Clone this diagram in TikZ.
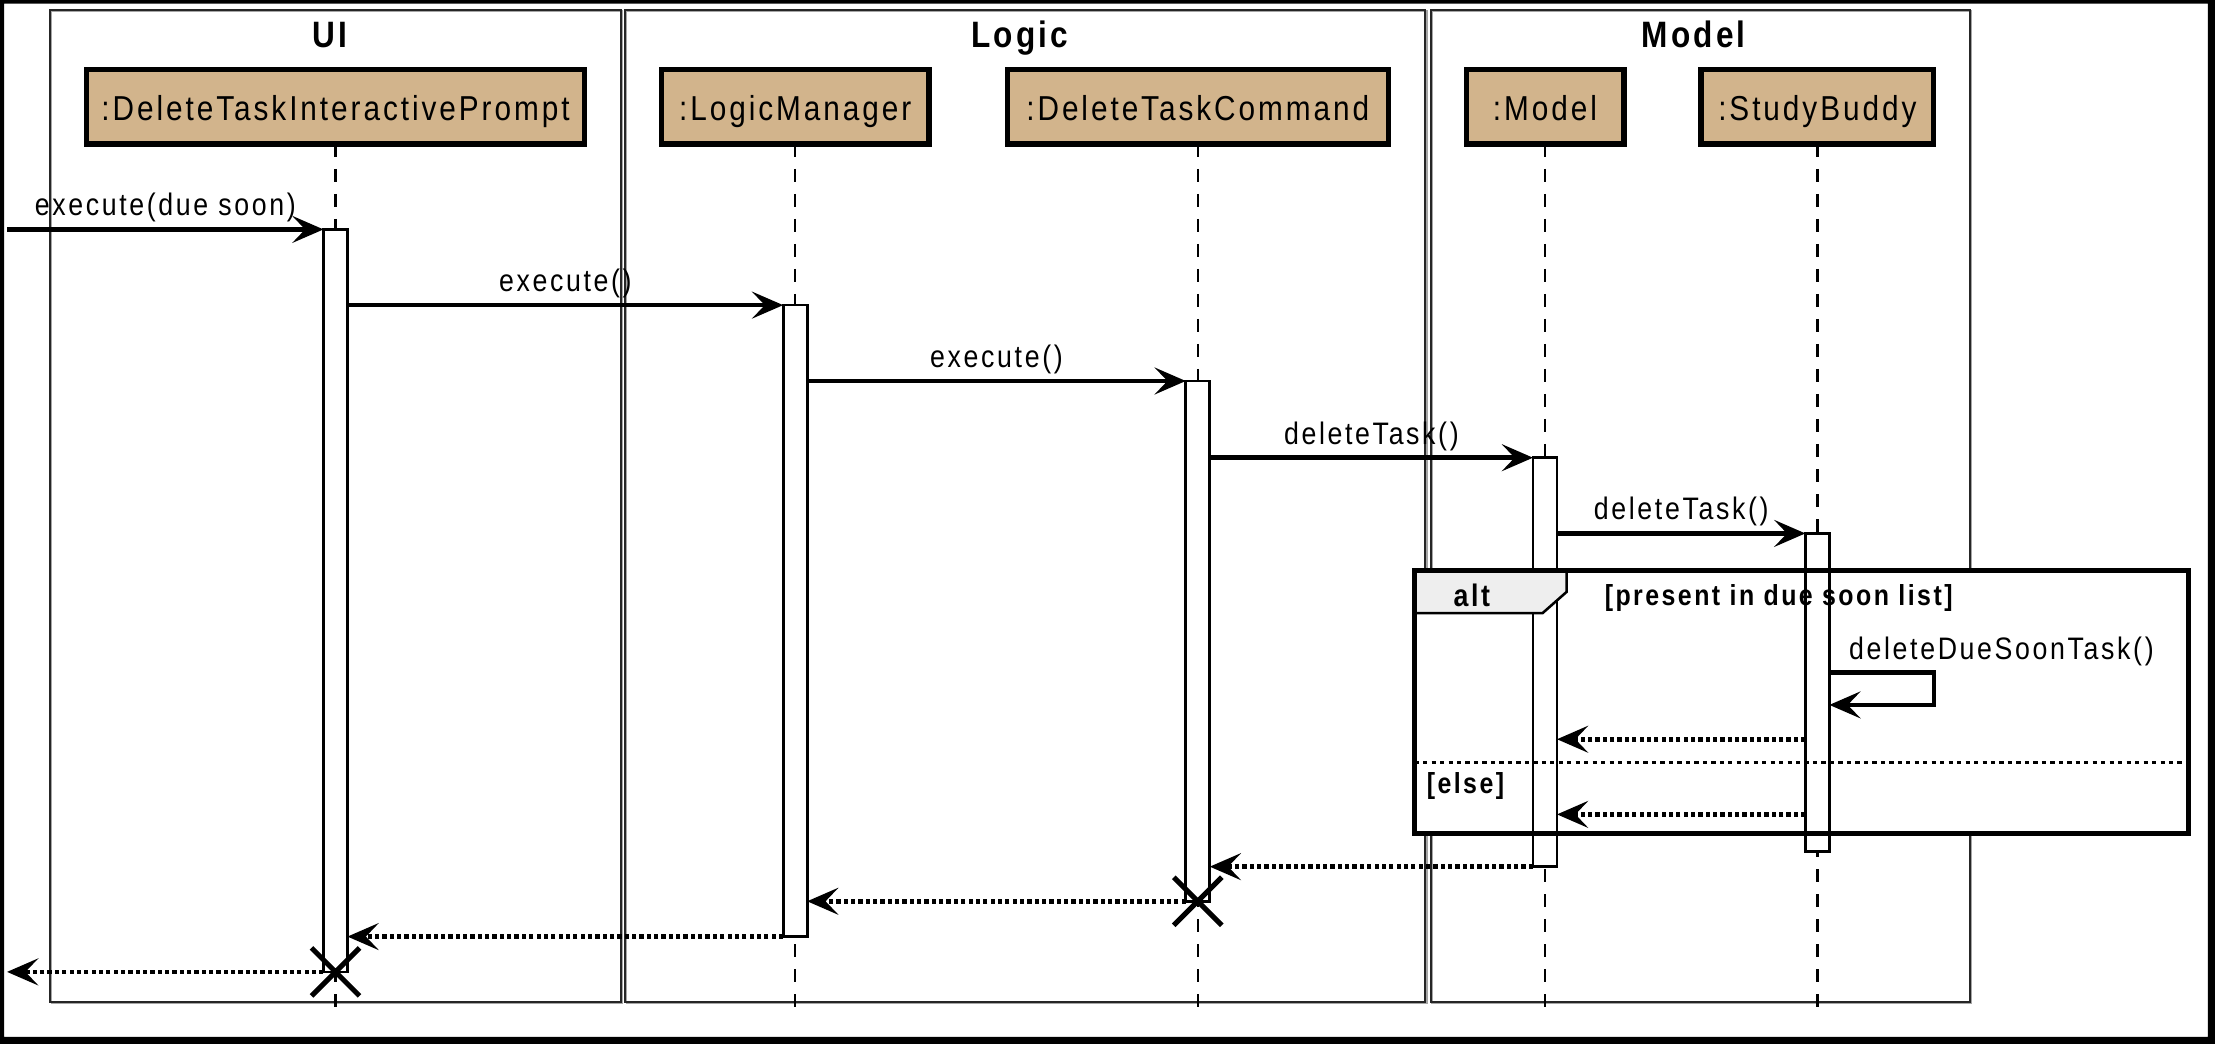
\documentclass[tikz,border=0pt]{standalone}
\usepackage{fontspec}
\usetikzlibrary{arrows.meta}
\newfontfamily\dfont[FakeStretch=0.86,LetterSpace=8.5]{Liberation Sans}
\definecolor{objtan}{HTML}{D2B48C}
\definecolor{tabgrey}{HTML}{EEEEEE}

\begin{document}
\begin{tikzpicture}[x=1pt,y=-1pt,
  every node/.style={inner sep=0pt, outer sep=0pt},
  pkgframe/.style={draw=black!85, line width=1.5pt},
  pkgshadow/.style={draw=black!35, line width=1.2pt},
  pkgtitle/.style={font=\dfont\bfseries\fontsize{26}{30}\selectfont, anchor=base},
  objbox/.style={draw, line width=3.8pt, fill=objtan, minimum height=52.8pt,
    text height=19.8pt, text depth=0pt, font=\dfont\fontsize{24.5}{28}\selectfont},
  lifeline/.style={line width=1.7pt, dash pattern=on 9pt off 8.7pt},
  actbar/.style={draw, fill=white, line width=1.9pt, minimum width=17pt, anchor=north},
  tip/.style={-{Stealth[length=22pt,width=19pt,inset=9pt]}},
  msg/.style={tip, line width=3.2pt},
  ret/.style={tip, line width=3.4pt, dash pattern=on 3pt off 2.2pt},
  msglbl/.style={font=\dfont\fontsize{22}{25}\selectfont, anchor=base, yshift=9.5pt},
  guard/.style={font=\dfont\bfseries\fontsize{20.5}{24}\selectfont, anchor=base west},
  destroy/.style={line width=3.6pt},
]
\useasboundingbox (0,0) rectangle (1568,739);

% outer border
\fill[even odd rule] (0,0) rectangle (1568,739) (3,2.5) rectangle (1563,734);

% package frames
\foreach \a/\b in {35.4/439.4, 442.5/1009, 1012.7/1394.6}{
  \draw[pkgshadow] (\a+1,8) rectangle (\b+1,710);
  \draw[pkgframe] (\a,7) rectangle (\b,709);
}
\node[pkgtitle] (tUI) at (233.5,33.8) {UI};
\node[pkgtitle] (tLG) at (721.8,33.8) {Logic};
\node[pkgtitle] (tMD) at (1199,33.8) {Model};

% participants
\node[objbox, minimum width=352.3pt] (oUI) at (237.5,75.5) {:DeleteTaskInteractivePrompt};
\node[objbox, minimum width=189.4pt] (oLM) at (562.9,75.5) {:LogicManager};
\node[objbox, minimum width=269.6pt] (oDC) at (847.9,75.5) {:DeleteTaskCommand};
\node[objbox, minimum width=111.6pt] (oMD) at (1093.7,75.5) {:Model};
\node[objbox, minimum width=164.7pt] (oSB) at (1286.5,75.5) {:StudyBuddy};

% lifelines
\coordinate (lend) at (0,715);
\foreach \o in {oUI,oLM,oDC,oMD,oSB}{
  \draw[lifeline] (\o.south) -- (\o.south |- lend);
}

% alt fragment background
\fill[white] (1001.4,403.7) rectangle (1549,590);

% activation bars
\node[actbar, minimum height=525.6pt] (bUI) at (oUI.south |- 0,162.4) {};
\node[actbar, minimum height=447pt] (bLM) at (oLM.south |- 0,216) {};
\node[actbar, minimum height=368.3pt] (bDC) at (oDC.south |- 0,269.7) {};
\node[actbar, minimum height=289.5pt] (bMD) at (oMD.south |- 0,324) {};
\node[actbar, minimum height=225.4pt] (bSB) at (oSB.south |- 0,377.6) {};

% alt fragment
\draw[line width=1.8pt, fill=tabgrey] (1001.4,403.7) -- (1109,403.7) -- (1109,419)
  -- (1092,434) -- (1001.4,434) -- cycle;
\draw[line width=3.6pt] (1001.4,403.7) rectangle (1549,590);
\draw[line width=2pt, dash pattern=on 3pt off 3pt] (1001.4,540) -- (1549,540);
\node[guard, font=\dfont\bfseries\fontsize{22}{25}\selectfont] (altlbl) at (1029,429.5) {alt};
\node[guard] (g1) at (1136,428.3) {[present in due soon list]};
\node[guard] (g2) at (1010,561.5) {[else]};

% calls
\coordinate (edge) at (5,0);
\draw[msg] (edge |- bUI.north) -- node[msglbl] (l1) {execute(due soon)} (bUI.north west);
\draw[msg] (bUI.east |- bLM.north) -- node[msglbl] (l2) {execute()} (bLM.north west);
\draw[msg] (bLM.east |- bDC.north) -- node[msglbl] (l3) {execute()} (bDC.north west);
\draw[msg] (bDC.east |- bMD.north) -- node[msglbl] (l4) {deleteTask()} (bMD.north west);
\draw[msg] (bMD.east |- bSB.north) -- node[msglbl] (l5) {deleteTask()} (bSB.north west);

% self call
\coordinate (s1) at (1369,476);
\coordinate (s2) at (1369,499);
\draw[msg] (bSB.east |- s1) -- (s1) -- (s2) -- (bSB.east |- s2);
\node[msglbl, anchor=base west] (l6) at (1309,476) {deleteDueSoonTask()};

% returns
\coordinate (r1) at (0,523.3);
\coordinate (r2) at (0,576.5);
\draw[ret] (bSB.west |- r1) -- (bMD.east |- r1);
\draw[ret] (bSB.west |- r2) -- (bMD.east |- r2);
\draw[ret] (bMD.south west) -- (bDC.east |- bMD.south);
\draw[ret] (bDC.south west) -- (bLM.east |- bDC.south);
\draw[ret] (bLM.south west) -- (bUI.east |- bLM.south);
\draw[ret] (bUI.south west) -- (edge |- bUI.south);

% destruction marks
\draw[destroy] (bDC.south) +(-17,-17) -- +(17,17) (bDC.south) +(-17,17) -- +(17,-17);
\draw[destroy] (bUI.south) +(-17,-17) -- +(17,17) (bUI.south) +(-17,17) -- +(17,-17);
\end{tikzpicture}
\end{document}
